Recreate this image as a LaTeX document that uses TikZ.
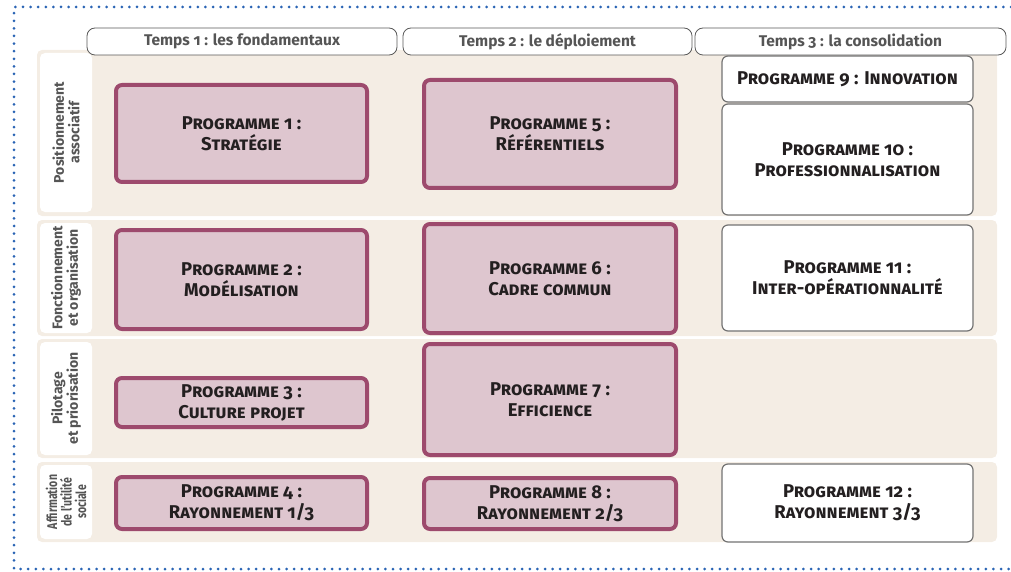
\documentclass[tikz,border=0pt]{standalone}
\usepackage{fontspec}
\setmainfont{Fira Sans}[Numbers=OldStyle]
\newfontfamily\narrowfont{Fira Sans}[FakeStretch=0.75]
\usetikzlibrary{positioning}
\definecolor{beige}{HTML}{F4EDE4}
\definecolor{progfill}{HTML}{DEC6CF}
\definecolor{progline}{HTML}{9D4A6D}
\definecolor{textgray}{HTML}{555555}
\definecolor{darktext}{HTML}{231F20}
\definecolor{dotblue}{HTML}{2A64B4}

\begin{document}
\begin{tikzpicture}[x=1pt,y=-1pt,
    band/.style={fill=beige,rounded corners=5pt},
    axe/.style={fill=white,rounded corners=5pt,rotate=90,inner sep=0pt,align=center,
      text=textgray,font=\bfseries\fontsize{14}{15.5}\selectfont},
    temps/.style={draw=black!65,fill=white,rounded corners=8pt,line width=0.8pt,inner sep=0pt,
      minimum height=27pt,text=textgray,font=\bfseries\fontsize{15.5}{17}\selectfont},
    prog/.style={draw=progline,fill=progfill,line width=4pt,rounded corners=6pt,inner sep=0pt,
      align=center,text=darktext,font=\bfseries\scshape\fontsize{18.5}{21}\selectfont},
    progw/.style={prog,draw=black!55,fill=white,line width=1.2pt},
    col1/.style={minimum width=251pt},
    col2/.style={minimum width=252pt},
    col3/.style={minimum width=251pt}]
    \useasboundingbox (0,0) rectangle (1011,572);

    \draw[dotblue,line width=3pt,line cap=round,dash pattern=on 0pt off 7.6pt]
      (1011,7) -- (14,7) -- (14,569) -- (1011,569);

    \fill[band] (37,50) rectangle (997,216);
    \fill[band] (37,220) rectangle (997,336);
    \fill[band] (37,339) rectangle (997,458);
    \fill[band] (37,462) rectangle (997,542);

    \node[axe,minimum width=159pt,minimum height=52pt] (a1) at (66,132.5) {Positionnement\\associatif};
    \node[axe,minimum width=110pt,minimum height=52pt] (a2) at (66,278) {Fonctionnement\\et organisation};
    \node[axe,minimum width=113pt,minimum height=52pt] (a3) at (66,398.5) {Pilotage\\et priorisation};
    \node[axe,minimum width=74pt,minimum height=52pt,font=\narrowfont\bfseries\fontsize{14}{14.5}\selectfont] (a4) at (66,502) {Affirmation\\de l’utilité\\sociale};

    \node[temps,minimum width=310pt] (t1) at (242,41.5) {Temps 1 : les fondamentaux};
    \node[temps,minimum width=289pt] (t2) at (547.5,41.5) {Temps 2 : le déploiement};
    \node[temps,minimum width=311pt] (t3) at (850.5,41.5) {Temps 3 : la consolidation};

    \node[prog,col1,minimum height=97pt] (p1) at (241.5,133.5) {Programme 1 :\\Stratégie};
    \node[prog,col1,minimum height=99pt] (p2) at (241.5,279.5) {Programme 2 :\\Modélisation};
    \node[prog,col1,minimum height=49pt] (p3) at (241.5,402.5) {Programme 3 :\\Culture projet};
    \node[prog,col1,minimum height=52pt] (p4) at (241.5,503) {Programme 4 :\\Rayonnement 1/3};

    \node[prog,col2,minimum height=108pt] (p5) at (550,134) {Programme 5 :\\Référentiels};
    \node[prog,col2,minimum height=109pt] (p6) at (550,278.5) {Programme 6 :\\Cadre commun};
    \node[prog,col2,minimum height=111pt] (p7) at (550,399.5) {Programme 7 :\\Efficience};
    \node[prog,col2,minimum height=51pt] (p8) at (550,503.5) {Programme 8 :\\Rayonnement 2/3};

    \node[progw,col3,minimum height=46pt] (p9) at (847.5,79) {Programme 9 : Innovation};
    \node[progw,col3,minimum height=111pt] (p10) at (847.5,159.5) {Programme 10 :\\Professionnalisation};
    \node[progw,col3,minimum height=106pt] (p11) at (847.5,278) {Programme 11 :\\Inter-opérationnalité};
    \node[progw,col3,minimum height=78pt] (p12) at (847.5,503) {Programme 12 :\\Rayonnement 3/3};
\end{tikzpicture}
\end{document}
